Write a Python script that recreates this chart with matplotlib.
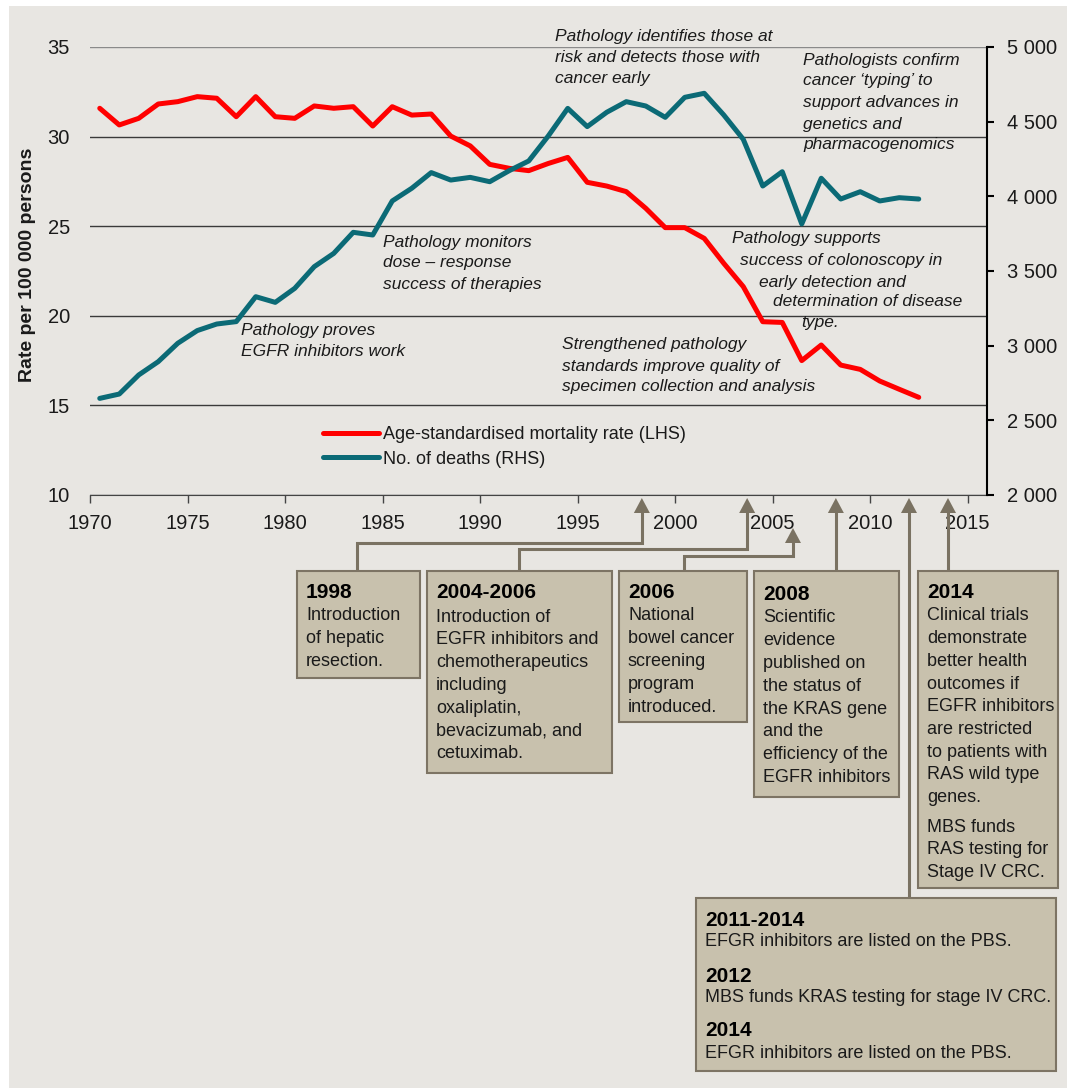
import numpy as np
import matplotlib.pyplot as plt
from matplotlib.patches import Rectangle, Polygon

plt.rcParams['font.family'] = ['Liberation Sans', 'DejaVu Sans']

# data (1970-2012)
years = np.arange(1970, 2013)
mortality_rate = [31.58, 30.65, 31.02, 31.82, 31.95, 32.23, 32.14, 31.11, 32.23, 31.11,
                  31.02, 31.71, 31.58, 31.67, 30.59, 31.67, 31.20, 31.26, 30.03, 29.48,
                  28.45, 28.23, 28.10, 28.50, 28.84, 27.45, 27.24, 26.93, 26.00, 24.92,
                  24.92, 24.32, 22.93, 21.63, 19.67, 19.63, 17.50, 18.37, 17.25, 17.01,
                  16.36, 15.90, 15.45]
deaths = [2647, 2676, 2804, 2893, 3016, 3101, 3145, 3161, 3328, 3290,
          3384, 3529, 3618, 3759, 3741, 3969, 4054, 4159, 4109, 4127,
          4098, 4172, 4237, 4404, 4589, 4467, 4563, 4634, 4605, 4529,
          4663, 4690, 4545, 4382, 4069, 4165, 3815, 4121, 3982, 4031,
          3969, 3991, 3982]

left_ticks = [10, 15, 20, 25, 30, 35]
right_ticks = [2000, 2500, 3000, 3500, 4000, 4500, 5000]
x_ticks = [1970, 1975, 1980, 1985, 1990, 1995, 2000, 2005, 2010, 2015]

series_labels = ['Age-standardised mortality rate (LHS)', 'No. of deaths (RHS)']

# events along the time axis
event_years = [1998.3, 2003.7, 2006.05, 2008.25, 2012.0, 2014.0]

W, H = 1067, 1088
bg = '#e8e6e2'
box_fill = '#c8c1ad'
box_edge = '#7d7464'
conn = '#7a7262'
red = '#ff0000'
teal = '#0b6a76'
txt = '#1a1a1a'

fig = plt.figure(figsize=(W / 100, H / 100), dpi=100)
fig.patch.set_facecolor('white')
fig.add_artist(Rectangle((9 / W, 0), 1, (H - 6) / H, transform=fig.transFigure,
                         facecolor=bg, edgecolor='none', zorder=-10))

ax = fig.add_axes([90 / W, (H - 495) / H, (987 - 90) / W, 448 / H])
ax.set_facecolor('none')
ax2 = ax.twinx()

l1, = ax.plot(years + 0.5, mortality_rate, color=red, lw=3.6,
              solid_joinstyle='round', solid_capstyle='round', zorder=3)
l2, = ax2.plot(years + 0.5, deaths, color=teal, lw=3.6,
               solid_joinstyle='round', solid_capstyle='round', zorder=3)

ax.set_xlim(1970, 2016)
ax.set_ylim(10, 35)
ax2.set_ylim(2000, 5000)
ax.set_xticks(x_ticks)
ax.set_yticks(left_ticks)
ax2.set_yticks(right_ticks)
ax2.set_yticklabels([f'{v:,}'.replace(',', ' ') for v in right_ticks])

ax.yaxis.grid(True, color='#3a3a3a', lw=1)
ax.get_ygridlines()[-1].set_color('#8a8a8a')
ax.set_axisbelow(True)

for s in ['left', 'top', 'right']:
    ax.spines[s].set_visible(False)
for s in ['left', 'top', 'bottom']:
    ax2.spines[s].set_visible(False)
ax.spines['bottom'].set_color('#444444')
ax2.spines['right'].set_color('black')
ax2.spines['right'].set_linewidth(1.5)

ax.tick_params(axis='y', length=0, pad=14.4, labelsize=14.5, labelcolor=txt)
ax.tick_params(axis='x', length=6, width=1, color='#444444', pad=8,
               labelsize=14.5, labelcolor=txt)
ax2.tick_params(axis='y', length=5, width=1.5, pad=9.4, labelsize=14.5, labelcolor=txt)

fig.legend([l1, l2], series_labels, loc='upper left',
           bbox_to_anchor=(323 / W, 1 - 426 / H), frameon=False, fontsize=13,
           handlelength=3.1, handletextpad=0.22, labelspacing=0.42,
           borderpad=0, borderaxespad=0, labelcolor=txt)

# overlay in pixel coordinates for notes, boxes and connectors
ov = fig.add_axes([0, 0, 1, 1])
ov.set_xlim(0, W)
ov.set_ylim(H, 0)
ov.axis('off')
ov.patch.set_alpha(0)

ov.text(28, 265, 'Rate per 100 000 persons', rotation=90, ha='center', va='center',
        fontsize=14, fontweight='bold', color=txt)


def note(x, ys, lines, xs=None):
    for i, (y, line) in enumerate(zip(ys, lines)):
        xx = xs[i] if xs else x
        ov.text(xx, y, line, style='italic', fontsize=12.5, ha='left', va='center', color=txt)


note(555, [36, 57, 79], ['Pathology identifies those at', 'risk and detects those with',
                         'cancer early'])
note(803, [60, 81, 103, 124, 145], ['Pathologists confirm', 'cancer \u2018typing\u2019 to',
                                    'support advances in', 'genetics and', 'pharmacogenomics'])
note(383, [242, 263, 284], ['Pathology monitors', 'dose \u2013 response', 'success of therapies'])
note(0, [239, 260, 282, 302, 323], ['Pathology supports', 'success of colonoscopy in',
                                    'early detection and', 'determination of disease', 'type.'],
     xs=[732, 740, 759, 773, 801])
note(562, [344, 366, 387], ['Strengthened pathology', 'standards improve quality of',
                            'specimen collection and analysis'])
note(241, [330, 351], ['Pathology proves', 'EGFR inhibitors work'])

# arrow x positions from the data axis
ex = [ax.transData.transform((yr, 0))[0] for yr in event_years]


def arrow_head(x, tip):
    ov.add_patch(Polygon([(x - 8, tip + 15), (x + 8, tip + 15), (x, tip)], closed=True,
                         facecolor=conn, edgecolor='none', zorder=5))


def connector(x, tip, elbow, bx, btop):
    if elbow is None:
        ov.plot([x, x], [tip + 12, btop], color=conn, lw=2.2, solid_joinstyle='miter')
    else:
        ov.plot([x, x, bx, bx], [tip + 12, elbow, elbow, btop], color=conn, lw=2.2,
                solid_joinstyle='miter')
    arrow_head(x, tip)


connector(ex[0], 498, 543, 357, 571)
connector(ex[1], 498, 549, 519, 571)
connector(ex[2], 528, 556, 684, 571)
connector(ex[3], 498, None, None, 571)
connector(ex[4], 498, None, None, 898)
connector(ex[5], 498, None, None, 571)


def box(x0, x1, y0, y1, entries):
    ov.add_patch(Rectangle((x0, y0), x1 - x0, y1 - y0, facecolor=box_fill,
                           edgecolor=box_edge, lw=1.5, zorder=4))
    for y, text, bold in entries:
        ov.text(x0 + 9, y, text, ha='left', va='center', color='black' if bold else txt,
                fontsize=15 if bold else 13, fontweight='bold' if bold else 'normal', zorder=6)


def lines_at(y0, step, lines):
    return [(y0 + i * step, t, False) for i, t in enumerate(lines)]


box(297, 420, 571, 678, [(592, '1998', True)] +
    lines_at(616, 22.8, ['Introduction', 'of hepatic', 'resection.']))
box(427, 612, 571, 773, [(593, '2004-2006', True)] +
    lines_at(617, 22.8, ['Introduction of', 'EGFR inhibitors and', 'chemotherapeutics',
                         'including', 'oxaliplatin,', 'bevacizumab, and', 'cetuximab.']))
box(619, 747, 571, 722, [(592, '2006', True)] +
    lines_at(616, 22.8, ['National', 'bowel cancer', 'screening', 'program', 'introduced.']))
box(754, 899, 571, 797, [(594, '2008', True)] +
    lines_at(618, 22.8, ['Scientific', 'evidence', 'published on', 'the status of',
                         'the KRAS gene', 'and the', 'efficiency of the', 'EGFR inhibitors']))
box(918, 1058, 571, 888, [(592, '2014', True)] +
    lines_at(616, 22.7, ['Clinical trials', 'demonstrate', 'better health', 'outcomes if',
                         'EGFR inhibitors', 'are restricted', 'to patients with',
                         'RAS wild type', 'genes.']) +
    lines_at(827, 22.7, ['MBS funds', 'RAS testing for', 'Stage IV CRC.']))
box(696, 1056, 898, 1071, [
    (920, '2011-2014', True), (942, 'EFGR inhibitors are listed on the PBS.', False),
    (976, '2012', True), (997, 'MBS funds KRAS testing for stage IV CRC.', False),
    (1031, '2014', True), (1053, 'EFGR inhibitors are listed on the PBS.', False)])

fig.savefig('out.png', dpi=100, facecolor=fig.get_facecolor())
